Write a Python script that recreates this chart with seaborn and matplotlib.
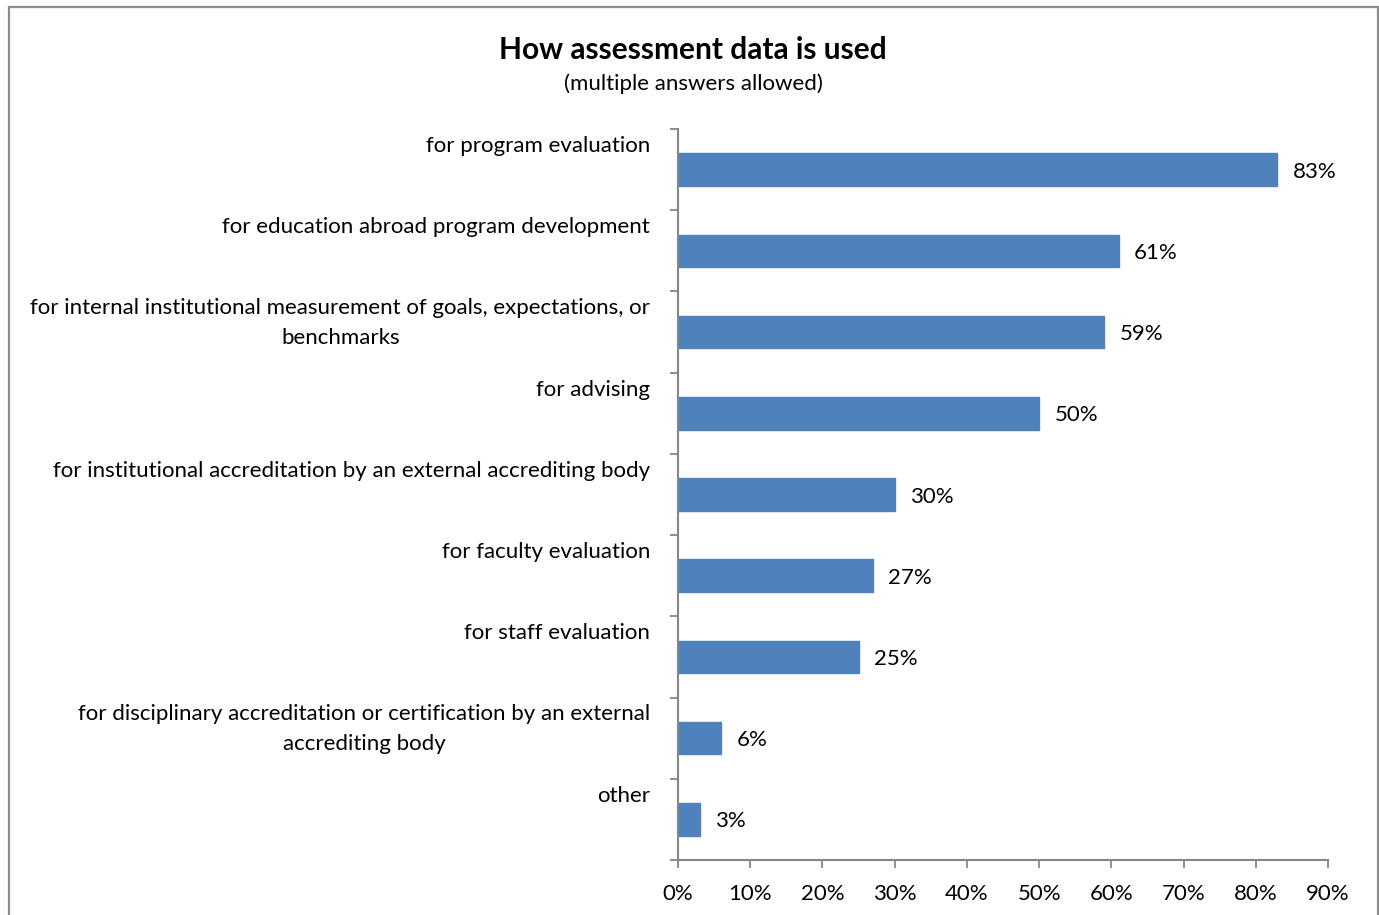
import matplotlib
matplotlib.use("Agg")
import matplotlib.pyplot as plt
import seaborn as sns
import pandas as pd
from matplotlib.patches import Rectangle
from matplotlib.ticker import FixedLocator, PercentFormatter

categories = [
    "for program evaluation",
    "for education abroad program development",
    "for internal institutional measurement of goals, expectations, or\nbenchmarks",
    "for advising",
    "for institutional accreditation by an external accrediting body",
    "for faculty evaluation",
    "for staff evaluation",
    "for disciplinary accreditation or certification by an external\naccrediting body",
    "other",
]
percent_used = [83, 61, 59, 50, 30, 27, 25, 6, 3]
x_ticks = [0, 10, 20, 30, 40, 50, 60, 70, 80, 90]

title = "How assessment data is used"
subtitle = "(multiple answers allowed)"

BAR_BLUE = "#4F81BD"
AXIS_GREY = "#868686"
FONT = ["Lato", "DejaVu Sans"]
TEXT_SIZE = 16

sns.set_theme(style="white")
plt.rcParams["font.family"] = FONT

df = pd.DataFrame({"use": categories, "pct": percent_used})

fig = plt.figure(figsize=(13.79, 9.15), dpi=100)
ax = fig.add_axes([678 / 1379, 1 - 860 / 915, 650 / 1379, (860 - 129) / 915])

sns.barplot(data=df, x="pct", y="use", orient="h", color=BAR_BLUE,
            width=0.4, saturation=1, edgecolor=BAR_BLUE, ax=ax)

n = len(categories)
ax.set_xlim(0, 90)
ax.set_ylim(n - 0.5, -0.5)
ax.set_xlabel("")
ax.set_ylabel("")

# x axis: percent ticks below the axis
ax.xaxis.set_major_locator(FixedLocator(x_ticks))
ax.xaxis.set_major_formatter(PercentFormatter(decimals=0))
ax.tick_params(axis="x", direction="out", length=6, width=1.3, color=AXIS_GREY,
               labelsize=TEXT_SIZE, labelcolor="black", pad=11, bottom=True)

# y axis: tick marks between categories, labels drawn separately
ax.set_yticks([])
ax.yaxis.set_minor_locator(FixedLocator([i - 0.5 for i in range(n + 1)]))
ax.tick_params(axis="y", which="minor", direction="out", length=6, width=1.3,
               color=AXIS_GREY, left=True)

for side in ("top", "right"):
    ax.spines[side].set_visible(False)
for side in ("left", "bottom"):
    ax.spines[side].set_color(AXIS_GREY)
    ax.spines[side].set_linewidth(1.5)

# category names, top-aligned in each band
for i, label in enumerate(categories):
    ax.annotate(label, xy=(0, i - 0.5), xycoords=("axes fraction", "data"),
                xytext=(-20, -5), textcoords="offset points",
                ha="right", va="top", multialignment="center",
                fontsize=TEXT_SIZE, color="black", linespacing=1.6)

# value labels beside each bar
for i, v in enumerate(percent_used):
    ax.annotate(f"{v}%", xy=(v, i), xycoords="data",
                xytext=(11, -1.5), textcoords="offset points",
                ha="left", va="center", fontsize=TEXT_SIZE, color="black")

fig.text(693 / 1379, 1 - 50 / 915, title, ha="center", va="center",
         fontsize=21.5, fontweight="bold", color="black")
fig.text(693 / 1379, 1 - 84 / 915, subtitle, ha="center", va="center",
         fontsize=TEXT_SIZE, color="black")

# chart frame
fig.patches.append(Rectangle((9 / 1379, -0.05), (1378 - 9) / 1379, 1.05 - 7 / 915,
                             transform=fig.transFigure, fill=False,
                             edgecolor="#8C8C8C", linewidth=1.6))

fig.savefig("out.png", dpi=100)
